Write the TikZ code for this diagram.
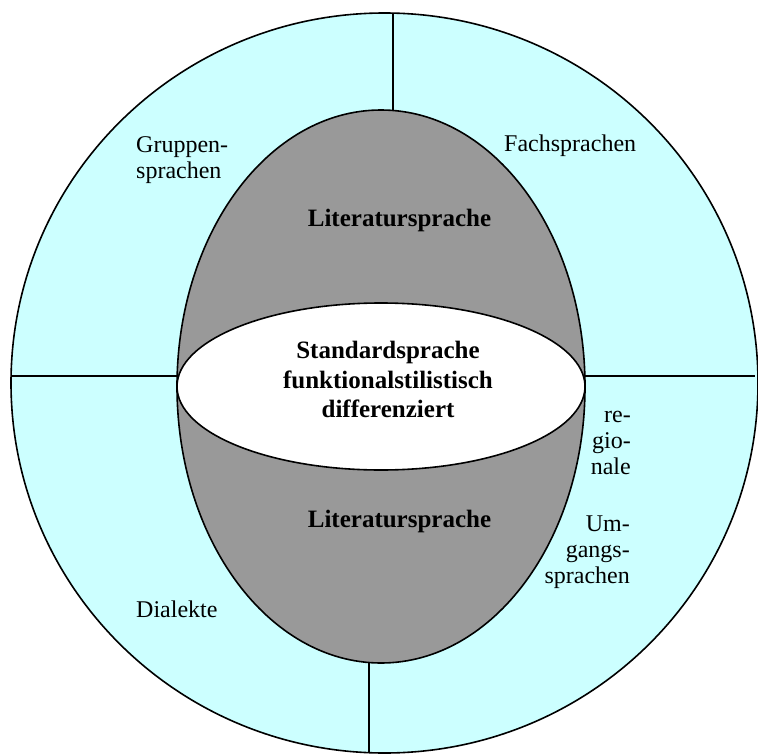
\documentclass[tikz,border=0pt]{standalone}
\usepackage{fontspec}
\setmainfont{Liberation Serif}
\definecolor{ringcyan}{HTML}{CCFFFF}
\definecolor{litgray}{HTML}{999999}
\tikzset{
  outline/.style={draw=black, line width=1.6bp},
  sep/.style={draw=black, line width=1.6bp},
  lbl/.style={inner sep=0pt, font=\fontsize{24bp}{26bp}\selectfont},
  blbl/.style={inner sep=0pt, font=\fontsize{25bp}{29.5bp}\selectfont\bfseries},
}
\begin{document}
\begin{tikzpicture}[x=1bp, y=-1bp]
\useasboundingbox (0,0) rectangle (758,756);
% outer ring
\path[outline, fill=ringcyan] (384.5,383) ellipse [x radius=373.5, y radius=370];
% gray ellipse
\path[outline, fill=litgray] (381,386.5) ellipse [x radius=204, y radius=276.5];
% white ellipse
\path[outline, fill=white] (381,386.5) ellipse [x radius=204, y radius=83.5];
% separator end points
\coordinate (topO) at (393,14);
\coordinate (topI) at (393,110.5);
\coordinate (leftO) at (11,376);
\coordinate (leftI) at (177.6,376);
\coordinate (rightI) at (584.4,376);
\coordinate (rightO) at (755,376);
\coordinate (botI) at (369,662.5);
\coordinate (botO) at (369,753);
\draw[sep] (topO) -- (topI);
\draw[sep] (leftO) -- (leftI);
\draw[sep] (rightI) -- (rightO);
\draw[sep] (botI) -- (botO);
% labels
\node[lbl, align=left, anchor=north west] (gruppen) at (136,136) {Gruppen-\\sprachen};
\node[lbl, anchor=base west] (fach) at (504,151) {Fachsprachen};
\node[blbl, anchor=base] (litup) at (399.5,226) {Literatursprache};
\node[blbl, align=center, anchor=north] (std) at (388,341) {Standardsprache\\funktionalstilistisch\\differenziert};
\node[blbl, anchor=base] (litlow) at (399.5,527) {Literatursprache};
\node[lbl, align=right, anchor=north east] (regio) at (631,411) {re-\\gio-\\nale};
\node[lbl, align=right, anchor=north east] (umg) at (630,516) {Um-\\gangs-\\sprachen};
\node[lbl, anchor=base west] (dial) at (136,617) {Dialekte};
\end{tikzpicture}
\end{document}
